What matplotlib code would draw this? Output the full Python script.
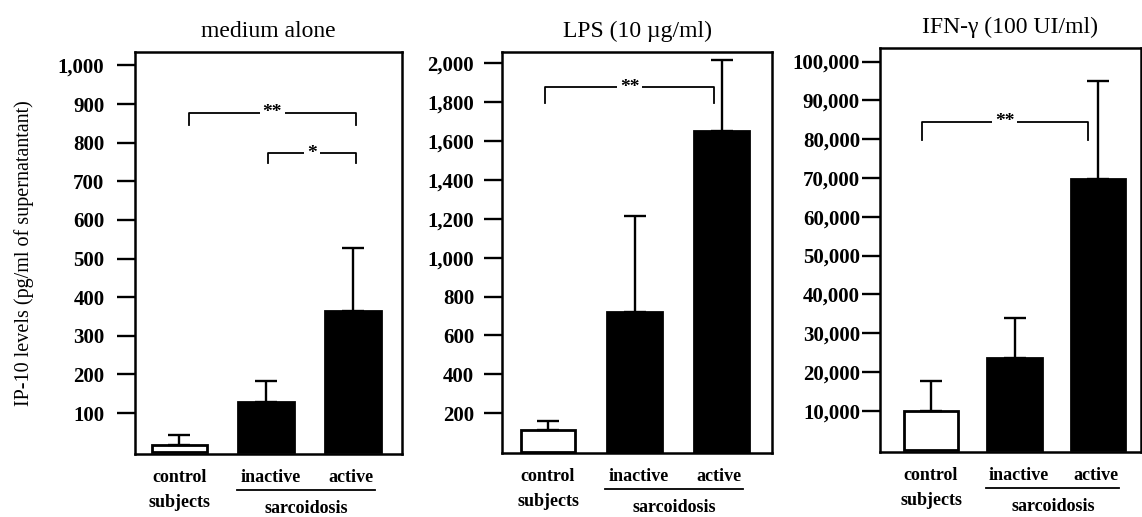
import matplotlib.pyplot as plt
from matplotlib.ticker import FuncFormatter

plt.rcParams['font.family'] = ['Liberation Serif', 'DejaVu Serif']

# group means and upper SD
groups = ["control", "inactive", "active"]
medium_mean = [17, 129, 365]
medium_err = [26, 55, 162]
lps_mean = [113, 722, 1653]
lps_err = [48, 492, 363]
ifn_mean = [10000, 23500, 69700]
ifn_err = [7650, 10300, 25300]

titles = ["medium alone", "LPS (10 \u00b5g/ml)", "IFN-\u03b3 (100 UI/ml)"]
medium_ticks = list(range(100, 1001, 100))
lps_ticks = list(range(200, 2001, 200))
ifn_ticks = list(range(10000, 100001, 10000))

# significance brackets: (x0, x1, y bar, y leg end, stars)
medium_brackets = [(0.11, 2.03, 877, 846, "**"), (1.02, 2.03, 773, 747, "*")]
lps_brackets = [(-0.03, 1.91, 1876, 1795, "**")]
ifn_brackets = [(-0.11, 1.875, 84500, 79800, "**")]

fig = plt.figure(figsize=(11.42, 5.17), dpi=100)

panels = [
    ([0.1182, 0.1219, 0.2338, 0.7776], medium_mean, medium_err, medium_ticks,
     (-6, 1035), (-0.51, 2.56), 0.64, medium_brackets, 9),
    ([0.4396, 0.1238, 0.2364, 0.7756], lps_mean, lps_err, lps_ticks,
     (-5, 2058), (-0.53, 2.58), 0.63, lps_brackets, 7),
    ([0.7706, 0.1257, 0.2285, 0.7815], ifn_mean, ifn_err, ifn_ticks,
     (-640, 103500), (-0.61, 2.51), 0.65, ifn_brackets, 1.5),
]

for i, (pos, mean, err, ticks, ylim, xlim, width, brackets, pad) in enumerate(panels):
    ax = fig.add_axes(pos)
    x = list(range(len(groups)))
    colors = ["white", "black", "black"]
    ax.bar(x, mean, width=width, color=colors, edgecolor="black", linewidth=2,
           yerr=[[0] * len(err), err], capsize=8,
           error_kw=dict(elinewidth=1.7, capthick=1.7, ecolor="black"), zorder=2)
    ax.set_xlim(*xlim)
    ax.set_ylim(*ylim)
    ax.set_yticks(ticks)
    ax.yaxis.set_major_formatter(FuncFormatter(lambda v, p: f"{int(v):,}"))
    ax.set_xticks([])
    ax.tick_params(axis="y", direction="out", length=13, width=1.7, pad=pad,
                   labelsize=15)
    for lab in ax.get_yticklabels():
        lab.set_fontweight("bold")
    for sp in ax.spines.values():
        sp.set_linewidth(1.8)

    for x0, x1, yb, yl, stars in brackets:
        ax.plot([x0, x0, x1, x1], [yl, yb, yb, yl], color="black", lw=1.3, zorder=3)
        ax.text((x0 + x1) / 2, yb, stars, ha="center", va="center",
                fontsize=14, fontweight="bold", zorder=4,
                bbox=dict(facecolor="white", edgecolor="none", pad=2))

    ax.set_title(titles[i], fontsize=17, pad=11)

    tr = ax.get_xaxis_transform()
    ax.text(0, -0.058, "control", transform=tr, ha="center", va="center",
            fontsize=13, fontweight="bold")
    ax.text(0, -0.12, "subjects", transform=tr, ha="center", va="center",
            fontsize=13, fontweight="bold")
    ax.text(1.05, -0.058, "inactive", transform=tr, ha="center", va="center",
            fontsize=13, fontweight="bold")
    ax.text(1.97, -0.058, "active", transform=tr, ha="center", va="center",
            fontsize=13, fontweight="bold")
    ax.plot([0.66, 2.25], [-0.09, -0.09], transform=tr, color="black", lw=1.3,
            clip_on=False)
    ax.text(1.46, -0.136, "sarcoidosis", transform=tr, ha="center", va="center",
            fontsize=13, fontweight="bold")

    if i == 0:
        ax.set_ylabel("IP-10 levels (pg/ml of supernatantant)", fontsize=14.5,
                      labelpad=17)

fig.savefig("out.png", dpi=100)
